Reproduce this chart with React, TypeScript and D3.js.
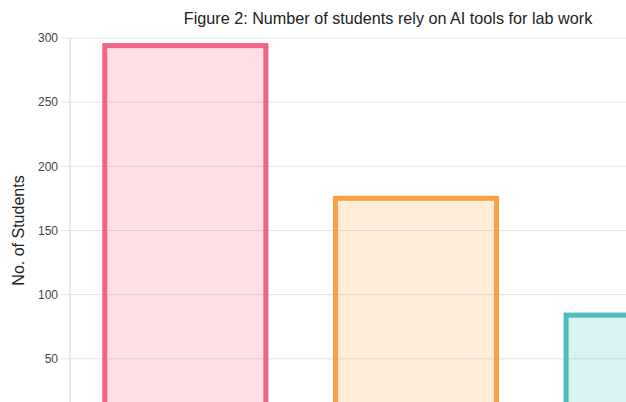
import React from "react";
import * as d3 from "d3";

const categories = ["Yes", "Sometimes", "No"];
const students = [296, 177, 86];
const borderColors = ["rgb(240,100,132)", "rgb(252,160,70)", "rgb(80,190,192)"];
const fillColors = ["rgba(255,99,132,0.2)", "rgba(255,159,64,0.2)", "rgba(75,192,192,0.2)"];
const yTicks = [0, 50, 100, 150, 200, 250, 300];
const titleText = "Figure 2: Number of students rely on AI tools for lab work";
const yTitle = "No. of Students";

const W = 626;
const H = 402;
const CANVAS_W = 776;
const left = 70;
const right = 762;
const top = 38;
const bottom = 423;

export default function App() {
  const x = d3.scaleBand<string>().domain(categories).range([left, right]).paddingInner(0).paddingOuter(0);
  const y = d3.scaleLinear().domain([0, 300]).range([bottom, top]);
  const bw = x.bandwidth() * 0.72;
  const bwStroke = 5;
  const font = "'Liberation Sans', Arial, sans-serif";
  return (
    <svg
      width={W}
      height={H}
      style={{ position: "fixed", left: 0, top: 0, background: "#fff", overflow: "hidden" }}
      fontFamily={font}
    >
      <rect x={0} y={0} width={W} height={H} fill="#fff" />
      <text x={CANVAS_W / 2} y={24} textAnchor="middle" fontSize={16.2} fill="#222">
        {titleText}
      </text>
      {yTicks.map((t) => (
        <g key={t}>
          <line x1={left - 8} x2={right} y1={y(t)} y2={y(t)} stroke="#e3e3e3" strokeWidth={1} />
          {y(t) < H - 8 && (
            <text x={left - 12} y={y(t)} dy="0.35em" textAnchor="end" fontSize={12} fill="#444">
              {t}
            </text>
          )}
        </g>
      ))}
      <line x1={left} x2={left} y1={top} y2={bottom + 8} stroke="#d6d6d6" strokeWidth={1} />
      <text
        transform={`translate(18,${(top + bottom) / 2}) rotate(-90)`}
        textAnchor="middle"
        dy="0.35em"
        fontSize={16}
        fill="#222"
      >
        {yTitle}
      </text>
      {categories.map((c, i) => {
        const cx = (x(c) as number) + x.bandwidth() / 2;
        const x0 = cx - bw / 2;
        const y0 = y(students[i]);
        const h = y(0) - y0;
        return (
          <g key={c}>
            <rect x={x0} y={y0} width={bw} height={h} fill={fillColors[i]} />
            <rect
              x={x0 + bwStroke / 2}
              y={y0 + bwStroke / 2}
              width={bw - bwStroke}
              height={h}
              fill="none"
              stroke={borderColors[i]}
              strokeWidth={bwStroke}
            />
          </g>
        );
      })}
    </svg>
  );
}
